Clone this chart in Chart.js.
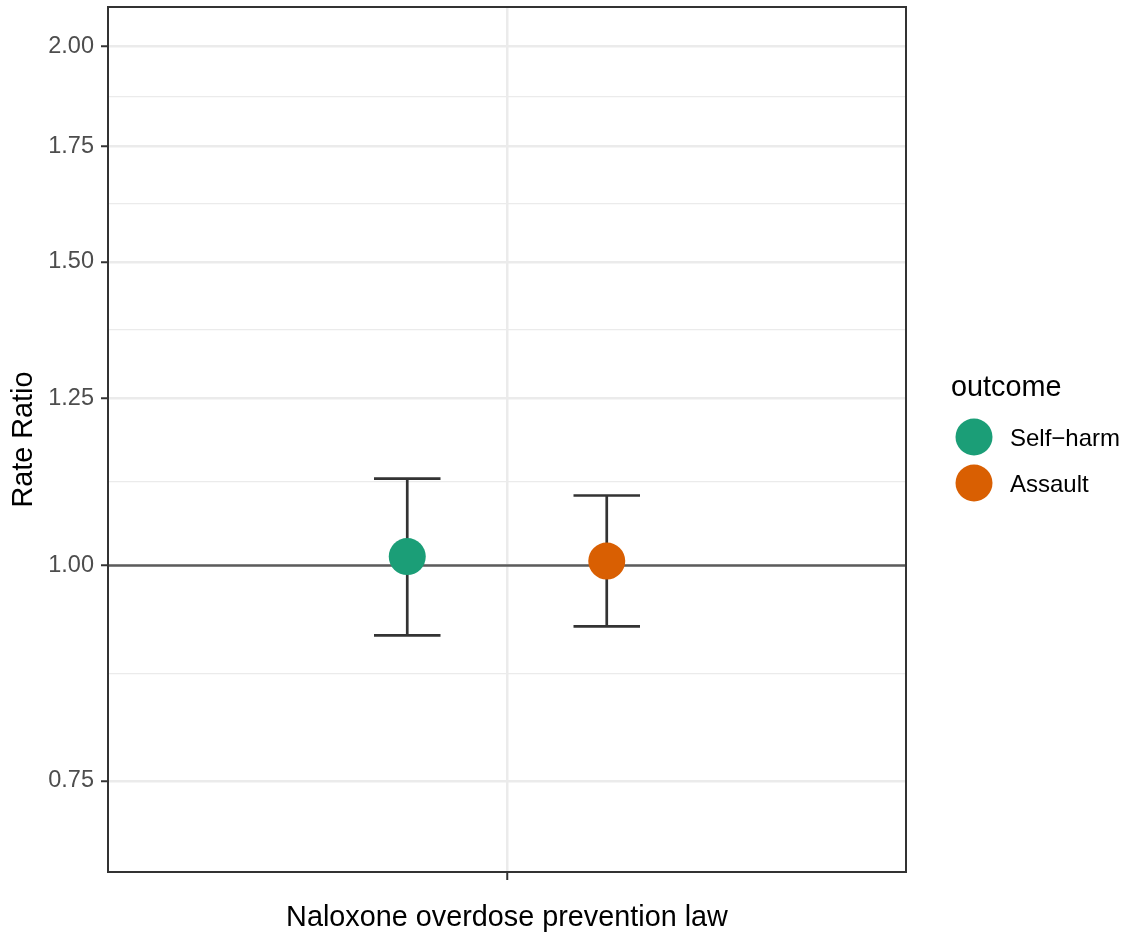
<!DOCTYPE html>
<html>
<head>
<meta charset="utf-8">
<script src="https://cdn.jsdelivr.net/npm/chart.js@4/dist/chart.umd.min.js"></script>
<style>
  html, body { margin: 0; padding: 0; background: #ffffff; }
  #wrap { width: 1127px; height: 938px; }
</style>
</head>
<body>
<div id="wrap"><canvas id="chart" width="1127" height="938"></canvas></div>
<script>
// Estimates: rate ratio with 95% CI per outcome
const exposure = 'Naloxone overdose prevention law';
const outcomes = ['Self\u2212harm', 'Assault'];
const outcomeColors = ['#1B9E77', '#D95F02'];
const rateRatio = [1.012, 1.006];
const ciLower = [0.911, 0.922];
const ciUpper = [1.123, 1.098];
const yBreaks = [0.75, 1.00, 1.25, 1.50, 1.75, 2.00];
const yLimits = [0.7, 2.0];
const referenceValue = 1;
const legendTitle = 'outcome';
const yTitle = 'Rate Ratio';

// Layout helpers (ggplot-like dodge and expansion)
const xCenter = 1;
const dodgeWidth = 0.6;
const whiskerWidth = 0.1;
const xPos = outcomes.map((_, i) =>
  xCenter - dodgeWidth / 2 + dodgeWidth / (2 * outcomes.length) + i * dodgeWidth / outcomes.length);

const lnLo = Math.log(yLimits[0]), lnHi = Math.log(yLimits[1]);
const lnPad = 0.05 * (lnHi - lnLo);
const yMin = Math.exp(lnLo - lnPad), yMax = Math.exp(lnHi + lnPad);

// minor breaks: midpoints of the major breaks on the log axis
const minorBreaks = [];
for (let i = 0; i < yBreaks.length - 1; i++) minorBreaks.push(Math.sqrt(yBreaks[i] * yBreaks[i + 1]));

const FONT = "'Liberation Sans', Arial, Helvetica, sans-serif";
const GRID = '#EBEBEB';
const DARK = '#333333';

const overlays = {
  id: 'overlays',
  beforeDatasetsDraw(chart) {
    const { ctx, chartArea: a, scales: { x, y } } = chart;
    ctx.save();
    // reference line at RR = 1
    const yr = y.getPixelForValue(referenceValue);
    ctx.strokeStyle = '#5c5c5c';
    ctx.lineWidth = 2.5;
    ctx.beginPath();
    ctx.moveTo(a.left, yr);
    ctx.lineTo(a.right, yr);
    ctx.stroke();
    // confidence interval whiskers
    ctx.strokeStyle = DARK;
    ctx.lineWidth = 2.7;
    ctx.lineCap = 'butt';
    outcomes.forEach((_, i) => {
      const xc = x.getPixelForValue(xPos[i]);
      const xl = x.getPixelForValue(xPos[i] - whiskerWidth / 2);
      const xr = x.getPixelForValue(xPos[i] + whiskerWidth / 2);
      const yl = y.getPixelForValue(ciLower[i]);
      const yu = y.getPixelForValue(ciUpper[i]);
      ctx.beginPath();
      ctx.moveTo(xc, yu); ctx.lineTo(xc, yl);
      ctx.moveTo(xl, yu); ctx.lineTo(xr, yu);
      ctx.moveTo(xl, yl); ctx.lineTo(xr, yl);
      ctx.stroke();
    });
    ctx.restore();
  },
  afterDatasetsDraw(chart) {
    const { ctx, chartArea: a } = chart;
    ctx.save();
    // panel border
    ctx.strokeStyle = DARK;
    ctx.lineWidth = 2;
    ctx.strokeRect(a.left, a.top, a.right - a.left, a.bottom - a.top);
    // legend
    ctx.fillStyle = '#000000';
    ctx.textBaseline = 'alphabetic';
    ctx.textAlign = 'left';
    ctx.font = '28.8px ' + FONT;
    ctx.fillText(legendTitle, 951, 396);
    ctx.font = '24px ' + FONT;
    outcomes.forEach((name, i) => {
      const cy = 437 + i * 46;
      ctx.fillStyle = outcomeColors[i];
      ctx.beginPath();
      ctx.arc(974, cy, 18.5, 0, Math.PI * 2);
      ctx.fill();
      ctx.fillStyle = '#000000';
      ctx.fillText(name, 1010, cy + 9);
    });
    ctx.restore();
  }
};

const datasets = outcomes.map((name, i) => ({
  label: name,
  data: [{ x: xPos[i], y: rateRatio[i] }],
  backgroundColor: outcomeColors[i],
  borderWidth: 0,
  pointRadius: 18.5,
  pointHoverRadius: 18.5
}));

new Chart(document.getElementById('chart'), {
  type: 'scatter',
  data: { datasets },
  options: {
    responsive: false,
    animation: false,
    devicePixelRatio: 1,
    events: [],
    layout: { autoPadding: false, padding: { top: 7, right: 221, left: 0, bottom: 0 } },
    plugins: { legend: { display: false }, tooltip: { enabled: false } },
    scales: {
      x: {
        type: 'linear',
        min: xCenter - 0.6,
        max: xCenter + 0.6,
        afterBuildTicks(scale) { scale.ticks = [{ value: xCenter }]; },
        afterFit(scale) {
          scale.height = 66;
          scale.paddingLeft = 0; scale.paddingRight = 0;
        },
        border: { display: false },
        grid: { color: GRID, lineWidth: 2.5, tickColor: DARK, tickWidth: 2, tickLength: 8 },
        ticks: { callback: () => '', autoSkip: false },
        title: {
          display: true, text: exposure, color: '#000000',
          font: { family: FONT, size: 28.8, lineHeight: 1.2 },
          padding: { top: 0, bottom: 3 }
        }
      },
      y: {
        type: 'logarithmic',
        min: yMin,
        max: yMax,
        afterBuildTicks(scale) {
          const t = yBreaks.map(v => ({ value: v, minor: false }))
            .concat(minorBreaks.map(v => ({ value: v, minor: true })))
            .filter(o => o.value >= yMin && o.value <= yMax)
            .sort((p, q) => p.value - q.value);
          scale.ticks = t;
        },
        afterFit(scale) {
          scale.width = 108;
          scale.paddingTop = 0; scale.paddingBottom = 0;
        },
        border: { display: false },
        grid: {
          color: GRID,
          lineWidth: c => (c.tick && c.tick.minor) ? 1.2 : 2.5,
          tickColor: c => (c.tick && c.tick.minor) ? 'rgba(0,0,0,0)' : DARK,
          tickWidth: 2,
          tickLength: 7
        },
        ticks: {
          autoSkip: false,
          padding: 7,
          color: '#4D4D4D',
          font: { family: FONT, size: 23.5 },
          callback: function (value, index, ticks) {
            return ticks[index].minor ? '' : Number(value).toFixed(2);
          }
        },
        title: {
          display: true, text: yTitle, color: '#000000',
          font: { family: FONT, size: 28.8, lineHeight: 1.2 },
          padding: { top: 7, bottom: 0 }
        }
      }
    }
  },
  plugins: [overlays]
});
</script>
</body>
</html>
